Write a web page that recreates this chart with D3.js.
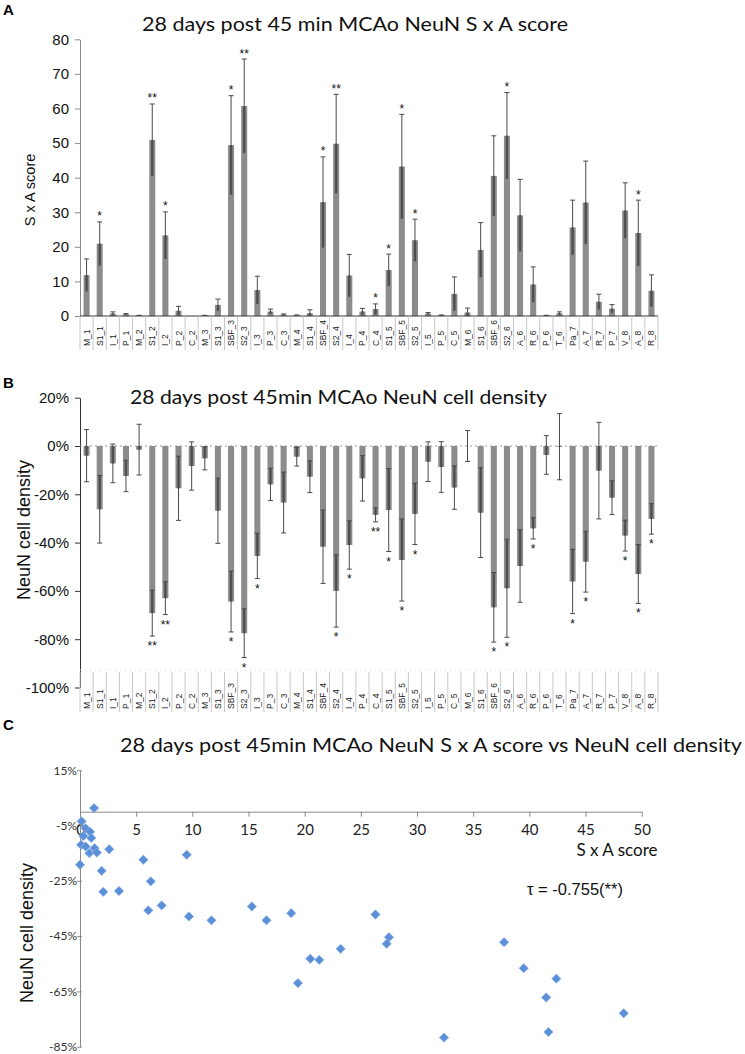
<!DOCTYPE html>
<html><head><meta charset="utf-8">
<script src="https://cdn.jsdelivr.net/npm/d3@7/dist/d3.min.js"></script>
<style>
html,body{margin:0;padding:0;background:#fff;}
svg{display:block;}
</style></head>
<body>
<svg id="chart" width="745" height="1054"></svg>
<script>
const categories = ["M_1","S1_1","I_1","P_1","M_2","S1_2","I_2","P_2","C_2","M_3","S1_3","SBF_3","S2_3","I_3","P_3","C_3","M_4","S1_4","SBF_4","S2_4","I_4","P_4","C_4","S1_5","SBF_5","S2_5","I_5","P_5","C_5","M_6","S1_6","SBF_6","S2_6","A_6","R_6","P_6","T_6","Pa_7","A_7","R_7","P_7","V_8","A_8","R_8"];

const scoreMean = [11.8,20.9,0.7,0.5,0.1,50.9,23.3,1.5,0.0,0.1,3.2,49.4,60.7,7.5,1.3,0.4,0.2,0.8,32.9,49.8,11.7,1.3,2.0,13.3,43.2,21.9,0.7,0.2,6.4,1.0,19.1,40.5,52.1,29.1,9.1,0.1,0.8,25.6,32.8,4.1,2.1,30.5,24.0,7.3];
const scoreErr  = [4.7,6.3,0.5,0.2,0.1,10.4,6.8,1.3,0.0,0.1,1.7,14.3,13.6,4.0,0.7,0.2,0.1,1.0,13.1,14.3,6.1,0.9,1.5,4.6,15.1,6.1,0.3,0.1,4.9,1.3,7.9,11.6,12.5,10.4,5.1,0.1,0.4,7.9,12.0,2.2,1.2,8.0,9.5,4.6];
const scoreSig  = ["","*","","","","**","*","","","","","*","**","","","","","","*","**","","","*","*","*","*","","","","","","","*","","","","","","","","","","*",""];

const densityMean = [-4.0,-26.2,-7.2,-12.4,-1.5,-69.2,-63.0,-17.5,-8.3,-5.1,-26.8,-64.4,-77.5,-45.5,-15.9,-23.4,-4.4,-12.7,-41.7,-60.0,-41.0,-13.4,-28.5,-26.5,-47.2,-28.1,-6.5,-8.7,-17.2,0.0,-27.6,-66.8,-58.9,-49.7,-34.1,-3.7,-0.3,-56.1,-47.9,-10.2,-21.4,-37.1,-53.0,-30.2];
const densityErr  = [10.8,14.0,8.0,6.5,10.5,9.5,6.8,13.3,10.0,4.8,13.5,12.6,10.1,9.4,6.7,12.6,3.9,6.6,15.2,15.0,10.0,9.4,2.9,17.2,17.0,12.7,8.2,10.5,9.0,6.4,18.6,14.4,20.3,15.0,4.4,8.0,13.7,13.3,12.6,20.0,7.0,6.4,12.2,6.3];
const densitySig  = ["","","","","","**","**","","","","","*","*","*","","","","","","*","*","","**","*","*","*","","","","","","*","*","","*","","","*","*","","","*","*","*"];

const scatterX = [1.25,0.15,0.5,0.9,0.3,1.0,0.1,0.5,0.83,1.3,1.5,0.0,2.6,1.93,2.07,3.47,5.64,6.3,6.08,7.27,9.5,9.7,11.7,15.3,16.6,18.8,20.5,21.3,23.2,19.4,26.3,27.5,27.3,37.75,39.5,42.4,41.5,48.4,41.7,32.4];
const scatterY = [1.3,-3.5,-6.0,-7.3,-8.8,-9.5,-12.0,-12.6,-15.0,-13.2,-14.8,-19.2,-13.6,-21.4,-29.0,-28.7,-17.4,-25.2,-35.7,-33.9,-15.6,-37.9,-39.3,-34.3,-39.3,-36.7,-53.2,-53.6,-49.6,-62.0,-37.2,-45.4,-47.8,-47.2,-56.6,-60.4,-67.2,-72.9,-79.7,-81.7];

const ticksA = [0,10,20,30,40,50,60,70,80];
const ticksB = [20,0,-20,-40,-60,-80,-100];
const ticksCx = [0,5,10,15,20,25,30,35,40,45,50];
const ticksCy = [15,-5,-25,-45,-65,-85];

const svg = d3.select("#chart");
const ARIAL = "'Liberation Sans', Arial, sans-serif";
const TITLE = "Lato, 'Open Sans', sans-serif";
const barFill = "#8c8c8c", errCol = "#4a4a4a", axisCol = "#8a8a8a";

const x = d3.scaleBand().domain(categories).range([80, 658]).paddingInner(0.54).paddingOuter(0.27);

function panelLetter(t, yy){
  svg.append("text").attr("x",3).attr("y",yy).attr("font-family",ARIAL).attr("font-weight","bold").attr("font-size",15).text(t);
}
function title(t, cx, yy, w){
  svg.append("text").attr("x",cx).attr("y",yy).attr("text-anchor","middle").attr("font-family",TITLE)
    .attr("font-size",19).attr("textLength",w).attr("lengthAdjust","spacingAndGlyphs").attr("fill","#111").text(t);
}

// ---------- Panel A ----------
panelLetter("A", 15);
title("28 days post 45 min MCAo NeuN S x A score", 355, 31, 426);
const yA = d3.scaleLinear().domain([0,80]).range([316,39.3]);
const gA = svg.append("g");
gA.append("g").attr("transform","translate(80,0)")
  .call(d3.axisLeft(yA).tickValues(ticksA).tickSize(5).tickSizeOuter(0))
  .call(g=>{g.select(".domain").attr("stroke",axisCol);g.selectAll(".tick line").attr("stroke",axisCol);
    g.selectAll("text").attr("font-family",ARIAL).attr("font-size",15).attr("fill","#111").attr("dx",-3);});
svg.append("text").attr("transform","translate(35,190) rotate(-90)").attr("text-anchor","middle")
  .attr("font-family",ARIAL).attr("font-size",14.5).attr("fill","#111").text("S x A score");

gA.selectAll(".barA").data(categories).join("rect")
  .attr("x",d=>x(d)).attr("width",x.bandwidth())
  .attr("y",(d,i)=>yA(scoreMean[i])).attr("height",(d,i)=>yA(0)-yA(scoreMean[i])).attr("fill",barFill);
categories.forEach((c,i)=>{
  const cx = x(c)+x.bandwidth()/2, m=scoreMean[i], e=scoreErr[i];
  if(e>0){
    gA.append("line").attr("x1",cx).attr("x2",cx).attr("y1",yA(m+e)).attr("y2",yA(Math.max(0,m-e))).attr("stroke",errCol).attr("stroke-width",1);
    gA.append("line").attr("x1",cx).attr("x2",cx).attr("y1",yA(m)).attr("y2",yA(Math.max(0,m-e))).attr("stroke",errCol).attr("stroke-width",2.5).attr("opacity",0.8);
    gA.append("line").attr("x1",cx-2.5).attr("x2",cx+2.5).attr("y1",yA(m+e)).attr("y2",yA(m+e)).attr("stroke",errCol).attr("stroke-width",1);
  }
  if(scoreSig[i]) gA.append("text").attr("x",cx).attr("y",yA(m+e)-1.5).attr("text-anchor","middle")
    .attr("font-family",ARIAL).attr("font-size",12).attr("fill","#111").text(scoreSig[i]);
});
gA.append("line").attr("x1",80).attr("x2",658).attr("y1",316).attr("y2",316).attr("stroke","#333").attr("stroke-width",1);
d3.range(categories.length+1).forEach(k=>{
  const xx = 80 + x.step()*k;
  gA.append("line").attr("x1",xx).attr("x2",xx).attr("y1",316).attr("y2",350).attr("stroke","#c8c8c8").attr("stroke-width",1);
});
gA.selectAll(".labA").data(categories).join("text")
  .attr("transform",d=>`translate(${x(d)+x.bandwidth()/2+3},346) rotate(-90)`)
  .attr("font-family",ARIAL).attr("font-size",8.5).attr("fill","#222").text(d=>d);

// ---------- Panel B ----------
panelLetter("B", 388);
title("28 days post 45min MCAo NeuN cell density", 338.5, 404, 417);
const yB = d3.scaleLinear().domain([-100,20]).range([687.5,397.7]);
const gB = svg.append("g");
gB.append("g").attr("transform","translate(80,0)")
  .call(d3.axisLeft(yB).tickValues(ticksB).tickSize(5).tickSizeOuter(0).tickFormat(d=>d+"%"))
  .call(g=>{g.select(".domain").attr("stroke","#333");g.selectAll(".tick line").attr("stroke","#333");
    g.selectAll("text").attr("font-family",ARIAL).attr("font-size",15).attr("fill","#111").attr("dx",-3);});
svg.append("text").attr("transform","translate(30,530) rotate(-90)").attr("text-anchor","middle")
  .attr("font-family",ARIAL).attr("font-size",18).attr("fill","#111").text("NeuN cell density");
gB.append("line").attr("x1",80).attr("x2",658).attr("y1",yB(0)).attr("y2",yB(0)).attr("stroke","#999").attr("stroke-dasharray","2,3");
gB.selectAll(".barB").data(categories).join("rect")
  .attr("x",d=>x(d)).attr("width",x.bandwidth())
  .attr("y",(d,i)=>yB(Math.max(0,densityMean[i]))).attr("height",(d,i)=>Math.abs(yB(densityMean[i])-yB(0))).attr("fill",barFill);
categories.forEach((c,i)=>{
  const cx = x(c)+x.bandwidth()/2, m=densityMean[i], e=densityErr[i];
  gB.append("line").attr("x1",cx).attr("x2",cx).attr("y1",yB(m+e)).attr("y2",yB(m-e)).attr("stroke",errCol).attr("stroke-width",1);
  const inTop = Math.min(0,m+e), inBot = m;
  if(inTop>inBot) gB.append("line").attr("x1",cx).attr("x2",cx).attr("y1",yB(inTop)).attr("y2",yB(inBot)).attr("stroke",errCol).attr("stroke-width",2.5).attr("opacity",0.8);
  [m+e,m-e].forEach(v=>gB.append("line").attr("x1",cx-2.5).attr("x2",cx+2.5).attr("y1",yB(v)).attr("y2",yB(v)).attr("stroke",errCol).attr("stroke-width",1));
  if(densitySig[i]) gB.append("text").attr("x",cx).attr("y",yB(m-e)+14).attr("text-anchor","middle")
    .attr("font-family",ARIAL).attr("font-size",12).attr("fill","#111").text(densitySig[i]);
});
gB.append("line").attr("x1",80).attr("x2",658).attr("y1",670).attr("y2",670).attr("stroke","#d0d0d0").attr("stroke-dasharray","1,4");
d3.range(categories.length+1).forEach(k=>{
  const xx = 80 + x.step()*k;
  gB.append("line").attr("x1",xx).attr("x2",xx).attr("y1",672).attr("y2",712).attr("stroke","#c8c8c8").attr("stroke-width",1);
});
gB.selectAll(".labB").data(categories).join("text")
  .attr("transform",d=>`translate(${x(d)+x.bandwidth()/2+3},709) rotate(-90)`)
  .attr("font-family",ARIAL).attr("font-size",8.5).attr("fill","#222").text(d=>d);

// ---------- Panel C ----------
panelLetter("C", 730);
title("28 days post 45min MCAo NeuN S x A score vs NeuN cell density", 431, 752, 622);
const xC = d3.scaleLinear().domain([0,50]).range([80,641.7]);
const yC = d3.scaleLinear().domain([-85,15]).range([1046.7,770.2]);
const gC = svg.append("g");
gC.append("g").attr("transform","translate(80,0)")
  .call(d3.axisLeft(yC).tickValues(ticksCy).tickSize(4).tickSizeOuter(0).tickFormat(d=>d+"%"))
  .call(g=>{g.select(".domain").attr("stroke",axisCol);g.selectAll(".tick line").attr("stroke",axisCol).attr("x2",-3).attr("x1",2);
    g.selectAll("text").attr("font-family",TITLE).attr("font-size",12).attr("fill","#333").attr("x",-3);});
gC.append("g").attr("transform",`translate(0,${yC(0)})`)
  .call(d3.axisBottom(xC).tickValues(ticksCx).tickSize(5).tickSizeOuter(0))
  .call(g=>{g.select(".domain").attr("stroke",axisCol);g.selectAll(".tick line").attr("stroke",axisCol);
    g.selectAll("text").attr("font-family",TITLE).attr("font-size",15).attr("fill","#222").attr("dy","1.05em");});
svg.append("text").attr("transform","translate(33,933) rotate(-90)").attr("text-anchor","middle")
  .attr("font-family",ARIAL).attr("font-size",18).attr("fill","#111").text("NeuN cell density");
svg.append("text").attr("x",617).attr("y",856).attr("text-anchor","middle").attr("font-family",TITLE).attr("font-size",17).attr("fill","#111").text("S x A score");
svg.append("text").attr("x",575).attr("y",895).attr("text-anchor","middle").attr("font-family",ARIAL).attr("font-size",16.5).attr("fill","#111").text("τ = -0.755(**)");
gC.selectAll(".pt").data(scatterX.map((v,i)=>[v,scatterY[i]])).join("path")
  .attr("d",d3.symbol().type(d3.symbolSquare).size(44))
  .attr("transform",d=>`translate(${xC(d[0])},${yC(d[1])}) rotate(45)`)
  .attr("fill","#5b8fd8").attr("stroke","#8fb4e8").attr("stroke-width",0.6);
</script>
</body></html>
